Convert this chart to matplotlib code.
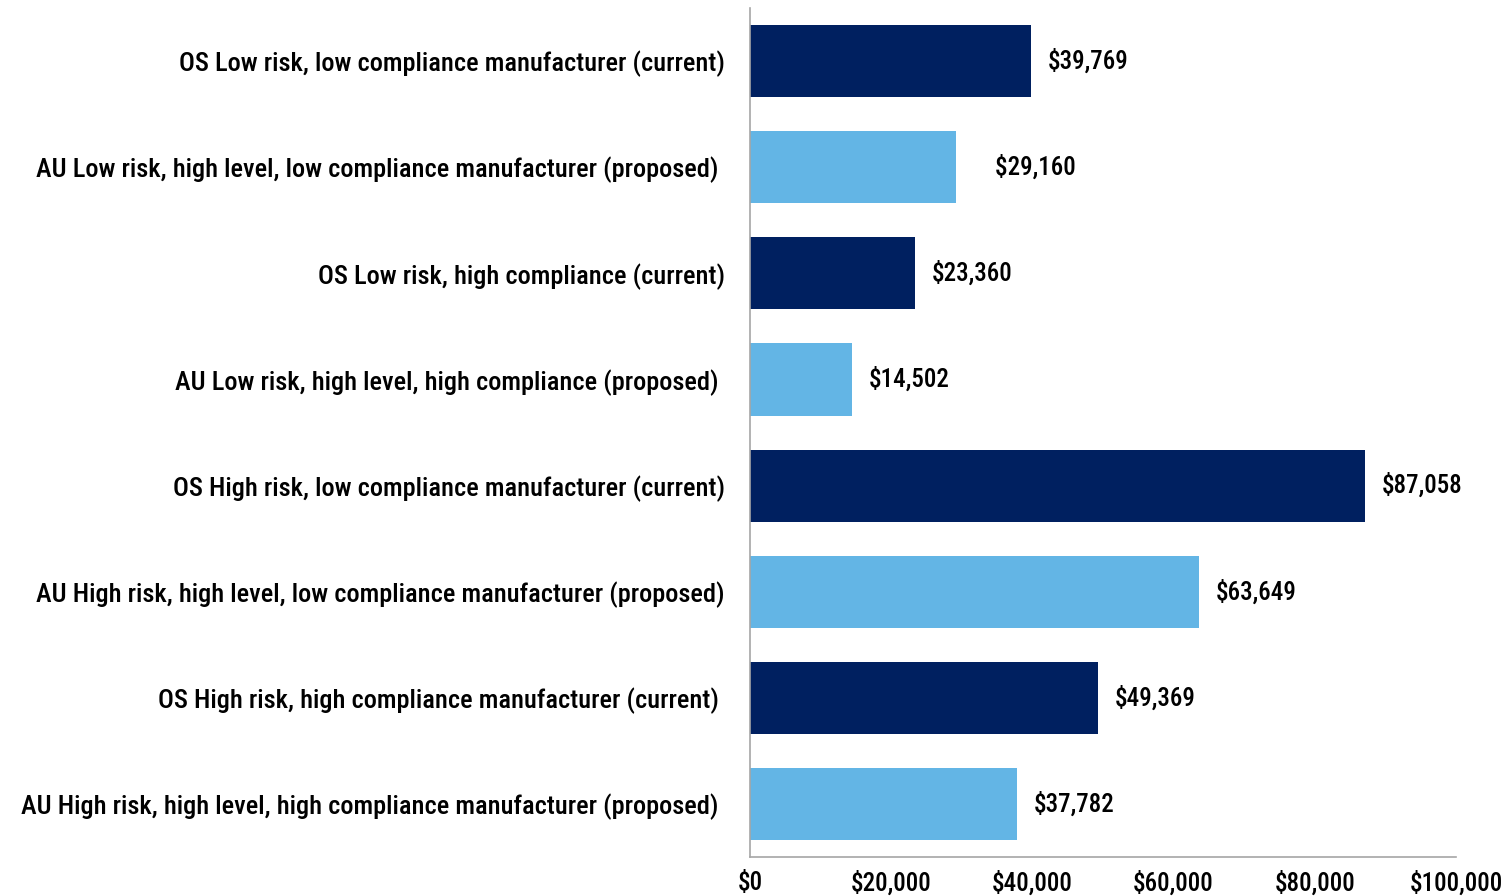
import matplotlib.pyplot as plt
from matplotlib.ticker import FuncFormatter
from matplotlib import font_manager

names = [
    'OS Low risk, low compliance manufacturer (current)',
    'AU Low risk, high level, low compliance manufacturer (proposed) ',
    'OS Low risk, high compliance (current)',
    'AU Low risk, high level, high compliance (proposed) ',
    'OS High risk, low compliance manufacturer (current)',
    'AU High risk, high level, low compliance manufacturer (proposed)',
    'OS High risk, high compliance manufacturer (current) ',
    'AU High risk, high level, high compliance manufacturer (proposed) ',
]
costs = [39769, 29160, 23360, 14502, 87058, 63649, 49369, 37782]
value_labels = ['$39,769', '    $29,160', '$23,360', '$14,502',
                '$87,058', '$63,649', '$49,369', '$37,782']
colours = ['#002060', '#63B5E5'] * 4

# the original uses a condensed face, take the closest one installed
wanted = ['RobotoCondensed-Medium', 'NotoSans-ExtraCondensedMedium',
          'RobotoCondensed-Regular', 'NotoSans-CondensedMedium',
          'NotoSans-Condensed.', 'DejaVuSansCondensed.ttf']
files = [f.fname for f in font_manager.fontManager.ttflist]
pick = None
for w in wanted:
    hits = [p for p in files if w in p]
    if hits:
        pick = hits[0]
        break
fp = font_manager.FontProperties(fname=pick) if pick else font_manager.FontProperties(family='DejaVu Sans')

fig = plt.figure(figsize=(15.08, 8.96), dpi=100)
ax = fig.add_axes([0.4973, 0.0435, 0.4682, 0.9475])

y = list(range(len(names)))
bars = ax.barh(y, costs, height=0.68, color=colours)
ax.bar_label(bars, labels=value_labels, padding=12, fontproperties=fp, fontsize=18)

ax.set_ylim(7.5, -0.5)
ax.set_xlim(0, 100000)
ax.set_xticks([0, 20000, 40000, 60000, 80000, 100000])
ax.xaxis.set_major_formatter(FuncFormatter(lambda v, p: '${:,.0f}'.format(v)))
ax.set_yticks(y)
ax.set_yticklabels(names)
for t in ax.get_yticklabels():
    t.set_fontproperties(fp)
    t.set_fontsize(19)
for t in ax.get_xticklabels():
    t.set_fontproperties(fp)
    t.set_fontsize(18)
ax.tick_params(axis='both', length=0)
ax.tick_params(axis='y', pad=18)
ax.tick_params(axis='x', pad=10)

for s in ['top', 'right']:
    ax.spines[s].set_visible(False)
for s in ['left', 'bottom']:
    ax.spines[s].set_color('#A6A6A6')
    ax.spines[s].set_linewidth(1.2)

fig.savefig('out.png', dpi=100)
